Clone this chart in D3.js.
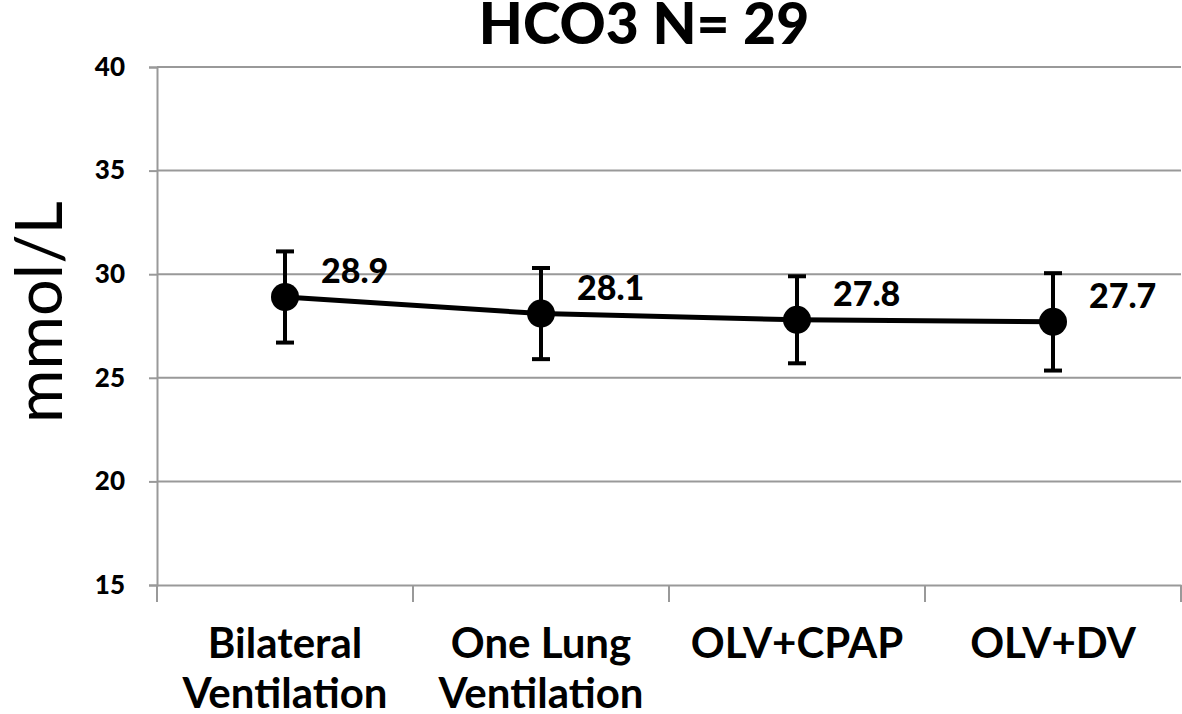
<!DOCTYPE html>
<html><head><meta charset="utf-8">
<script src="https://cdn.jsdelivr.net/npm/d3@7"></script>
<style>html,body{margin:0;padding:0;background:#fff;}svg{display:block;font-family:Lato,"Open Sans",sans-serif;}</style>
</head><body>
<svg id="c" width="1182" height="714"></svg>
<script>
const categories = [["Bilateral","Ventilation"],["One Lung","Ventilation"],["OLV+CPAP"],["OLV+DV"]];
const values = [28.9, 28.1, 27.8, 27.7];
const errors = [2.2, 2.2, 2.1, 2.35];
const yTicks = [15, 20, 25, 30, 35, 40];
const title = "HCO3 N= 29";
const yLabel = "mmol/L";

const svg = d3.select("#c");
const m = {left:157, right:1181, top:67, bottom:585};
const keys = categories.map((d,i)=>i);
const x = d3.scaleBand().domain(keys).range([m.left, m.right]);
const y = d3.scaleLinear().domain([15,40]).range([m.bottom, m.top]);

// grid
svg.append("g").selectAll("line").data(yTicks.slice(1)).join("line")
  .attr("x1", m.left).attr("x2", m.right).attr("y1", d=>y(d)).attr("y2", d=>y(d))
  .attr("stroke", "#999").attr("stroke-width", 2);

// y axis
const ya = svg.append("g").attr("transform", `translate(${m.left},0)`)
  .call(d3.axisLeft(y).tickValues(yTicks).tickSize(8).tickPadding(24));
ya.select(".domain").attr("stroke","#999").attr("stroke-width",2);
ya.selectAll(".tick line").attr("stroke","#999").attr("stroke-width",2);
ya.selectAll(".tick text").attr("font-size",26).attr("font-weight",900).attr("fill","#000")
  .attr("font-family","Lato,sans-serif");

// x axis
const xa = svg.append("g").attr("transform", `translate(0,${m.bottom})`)
  .call(d3.axisBottom(x).tickSize(0).tickFormat(""));
xa.select(".domain").attr("stroke","#999").attr("stroke-width",2);
const xt = d3.range(keys.length+1).map(i=>m.left + i*x.step());
svg.append("g").selectAll("line").data(xt).join("line")
  .attr("x1",d=>d).attr("x2",d=>d).attr("y1",m.bottom).attr("y2",m.bottom+17)
  .attr("stroke","#999").attr("stroke-width",2);

// category labels
const cx = i => x(i) + x.bandwidth()/2;
svg.append("g").selectAll("text").data(categories).join("text")
  .attr("text-anchor","middle").attr("font-size",42).attr("font-weight","bold")
  .attr("transform",(d,i)=>`translate(${cx(i)},658)`)
  .each(function(d){
    d3.select(this).selectAll("tspan").data(d).join("tspan")
      .attr("x",0).attr("dy",(t,j)=>j?50:0).text(t=>t);
  });

// line
svg.append("path").datum(values)
  .attr("d", d3.line().x((d,i)=>cx(i)).y(d=>y(d)))
  .attr("fill","none").attr("stroke","#000").attr("stroke-width",5);

// error bars
const eb = svg.append("g").selectAll("g").data(values).join("g");
eb.append("line").attr("x1",(d,i)=>cx(i)).attr("x2",(d,i)=>cx(i))
  .attr("y1",(d,i)=>y(d+errors[i])).attr("y2",(d,i)=>y(d-errors[i]))
  .attr("stroke","#000").attr("stroke-width",4);
eb.append("line").attr("x1",(d,i)=>cx(i)-9).attr("x2",(d,i)=>cx(i)+9)
  .attr("y1",(d,i)=>y(d+errors[i])).attr("y2",(d,i)=>y(d+errors[i]))
  .attr("stroke","#000").attr("stroke-width",4);
eb.append("line").attr("x1",(d,i)=>cx(i)-9).attr("x2",(d,i)=>cx(i)+9)
  .attr("y1",(d,i)=>y(d-errors[i])).attr("y2",(d,i)=>y(d-errors[i]))
  .attr("stroke","#000").attr("stroke-width",4);

// points
svg.append("g").selectAll("circle").data(values).join("circle")
  .attr("cx",(d,i)=>cx(i)).attr("cy",d=>y(d)).attr("r",14).attr("fill","#000");

// value labels
svg.append("g").selectAll("text").data(values).join("text")
  .attr("x",(d,i)=>cx(i)+36).attr("y",d=>y(d)-14)
  .attr("font-size",34).attr("font-weight",900).attr("fill","#000")
  .text(d=>d.toFixed(1));

// title
svg.append("text").attr("x",644).attr("y",44).attr("text-anchor","middle")
  .attr("font-size",57).attr("font-weight",900).text(title);

// y label
svg.append("text").attr("transform","translate(62,312) rotate(-90)")
  .attr("text-anchor","middle").attr("font-size",65).text(yLabel);
</script>
</body></html>
